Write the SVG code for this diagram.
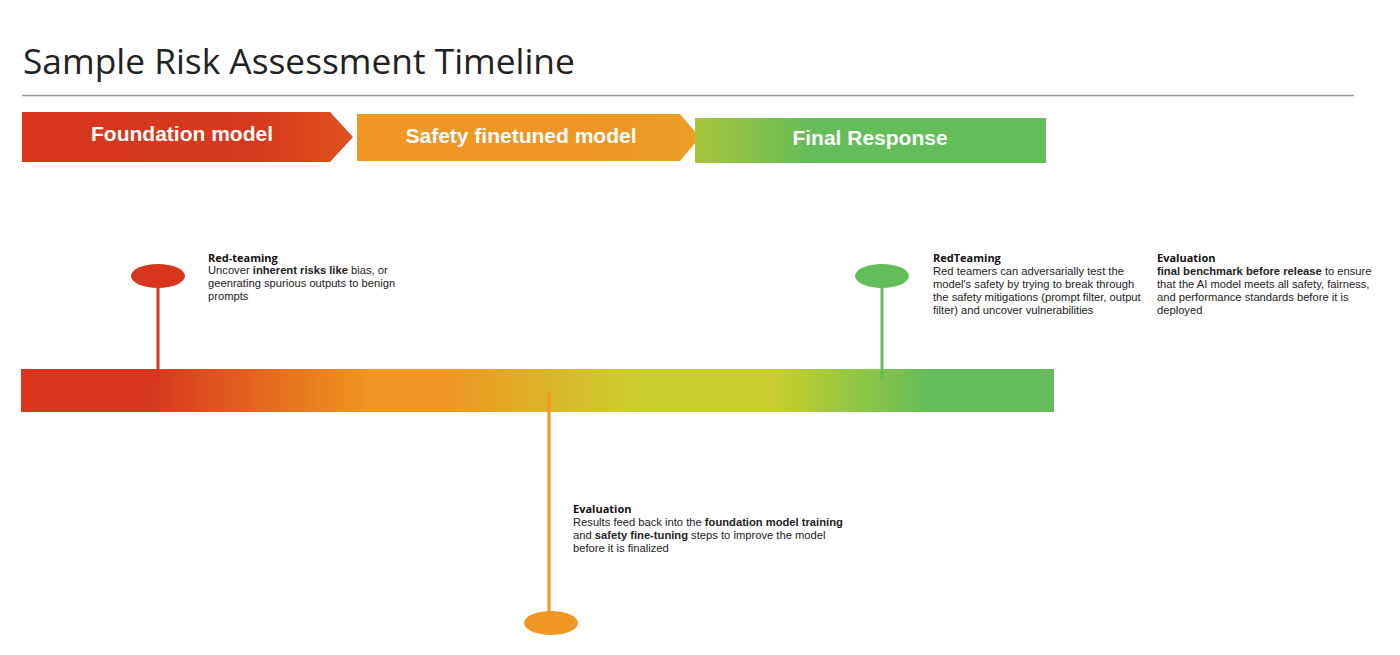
<svg xmlns="http://www.w3.org/2000/svg" width="1400" height="655" viewBox="0 0 1400 655">
<defs>
<linearGradient id="barGrad" x1="21" y1="0" x2="1054" y2="0" gradientUnits="userSpaceOnUse">
<stop offset="0" stop-color="#d5361c"/>
<stop offset="0.123" stop-color="#d5361c"/>
<stop offset="0.336" stop-color="#ef9623"/>
<stop offset="0.413" stop-color="#ef9623"/>
<stop offset="0.593" stop-color="#cacf2d"/>
<stop offset="0.726" stop-color="#cacf2d"/>
<stop offset="0.880" stop-color="#63bd59"/>
<stop offset="1" stop-color="#63bd59"/>
</linearGradient>
<linearGradient id="g1" x1="22" y1="0" x2="353" y2="0" gradientUnits="userSpaceOnUse">
<stop offset="0" stop-color="#d5361c"/>
<stop offset="0.7" stop-color="#d6391c"/>
<stop offset="1" stop-color="#de531e"/>
</linearGradient>
<linearGradient id="g2" x1="357" y1="0" x2="700" y2="0" gradientUnits="userSpaceOnUse">
<stop offset="0" stop-color="#ef9623"/>
<stop offset="0.7" stop-color="#ef9623"/>
<stop offset="1" stop-color="#eb9f25"/>
</linearGradient>
<linearGradient id="g3" x1="695" y1="0" x2="1046" y2="0" gradientUnits="userSpaceOnUse">
<stop offset="0" stop-color="#a9c53a"/>
<stop offset="0.33" stop-color="#63bd59"/>
<stop offset="1" stop-color="#63bd59"/>
</linearGradient>
<style>
.title{font-family:"Open Sans","Liberation Sans",sans-serif;font-size:35.3px;fill:#222;font-weight:400}
.chev{font-family:"Liberation Sans",Arial,sans-serif;font-size:21px;font-weight:700;fill:#fff;text-anchor:middle}
.hd{font-family:"Open Sans","Liberation Sans",sans-serif;font-size:11px;font-weight:700;fill:#111}
.bd{font-family:"Liberation Sans",Arial,sans-serif;font-size:11.2px;fill:#222}
.b{font-weight:700}
</style>
</defs>
<rect width="1400" height="655" fill="#fff"/>
<g id="title">
<text class="title" x="23" y="74">Sample Risk Assessment Timeline</text>
<line x1="22" y1="95.5" x2="1354" y2="95.5" stroke="#999" stroke-width="1.5"/>
</g>
<g id="phase-foundation">
<polygon points="22,112 330,112 353,137 330,162 22,162" fill="url(#g1)"/>
<text class="chev" x="182" y="141">Foundation model</text>
</g>
<g id="phase-safety">
<polygon points="357,114 680,114 700,137.5 680,161 357,161" fill="url(#g2)"/>
<text class="chev" x="521" y="143">Safety finetuned model</text>
</g>
<g id="phase-final">
<rect x="695" y="118" width="351" height="45" fill="url(#g3)"/>
<text class="chev" x="870" y="145">Final Response</text>
</g>
<g id="timeline-bar">
<rect x="21" y="369" width="1033" height="43" fill="url(#barGrad)"/>
</g>
<g id="connectors">
<line x1="158" y1="286" x2="158" y2="380" stroke="#d5361c" stroke-width="3"/>
<line x1="882" y1="286" x2="882" y2="380" stroke="#63bd59" stroke-width="3"/>
<line x1="549" y1="392" x2="549" y2="613" stroke="#ef9623" stroke-width="3"/>
</g>
<g id="pin-redteaming">
<ellipse cx="158" cy="276" rx="27" ry="12" fill="#d5361c"/>
<text class="hd" x="208" y="262">Red-teaming</text>
<text class="bd" x="208" y="274">Uncover <tspan class="b">inherent risks like</tspan> bias, or</text>
<text class="bd" x="208" y="287">geenrating spurious outputs to benign</text>
<text class="bd" x="208" y="300">prompts</text>
</g>
<g id="pin-redteaming2">
<ellipse cx="882" cy="276" rx="27" ry="12" fill="#63bd59"/>
<text class="hd" x="933" y="262">RedTeaming</text>
<text class="bd" x="933" y="275">Red teamers can adversarially test the</text>
<text class="bd" x="933" y="288">model's safety by trying to break through</text>
<text class="bd" x="933" y="301">the safety mitigations (prompt filter, output</text>
<text class="bd" x="933" y="314">filter) and uncover vulnerabilities</text>
</g>
<g id="note-final-eval">
<text class="hd" x="1157" y="262">Evaluation</text>
<text class="bd" x="1157" y="275"><tspan class="b">final benchmark before release</tspan> to ensure</text>
<text class="bd" x="1157" y="288">that the AI model meets all safety, fairness,</text>
<text class="bd" x="1157" y="301">and performance standards before it is</text>
<text class="bd" x="1157" y="314">deployed</text>
</g>
<g id="pin-evaluation">
<ellipse cx="551" cy="623" rx="27" ry="12" fill="#ef9623"/>
<text class="hd" x="573" y="513">Evaluation</text>
<text class="bd" x="573" y="526">Results feed back into the <tspan class="b">foundation model training</tspan></text>
<text class="bd" x="573" y="539">and <tspan class="b">safety fine-tuning</tspan> steps to improve the model</text>
<text class="bd" x="573" y="552">before it is finalized</text>
</g>
</svg>
